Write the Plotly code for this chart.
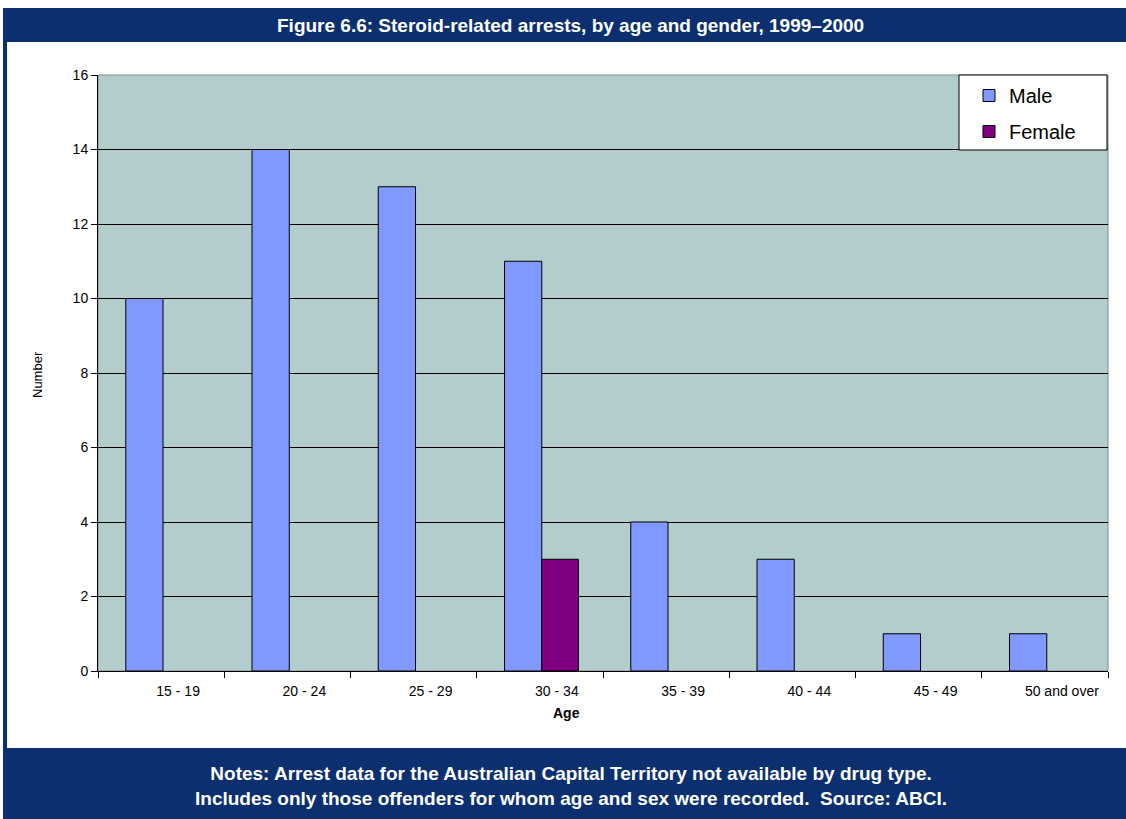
import plotly.graph_objects as go

categories = ["15 - 19", "20 - 24", "25 - 29", "30 - 34", "35 - 39", "40 - 44", "45 - 49", "50 and over"]
male = [10, 14, 13, 11, 4, 3, 1, 1]
female = [None, None, None, 3, None, None, None, None]
y_ticks = [0, 2, 4, 6, 8, 10, 12, 14, 16]

title_text = "Figure 6.6: Steroid-related arrests, by age and gender, 1999\u20132000"
notes_text = ("Notes: Arrest data for the Australian Capital Territory not available by drug type.<br>"
              "Includes only those offenders for whom age and sex were recorded.  Source: ABCI.")

NAVY = "#0B2F6F"
W, H = 1126, 819
L, R, T, B = 98, 18, 75, 148
PW, PH = W - L - R, H - T - B


def px(x):
    return (x - L) / PW


def py(y):
    return (H - B - y) / PH


fig = go.Figure()
fig.add_trace(go.Bar(name="Male", x=categories, y=male, legend="legend",
                     offset=-0.28, width=0.295,
                     marker=dict(color="#8099FF", line=dict(color="black", width=1))))
fig.add_trace(go.Bar(name="Female", x=categories, y=female, legend="legend2",
                     offset=0.015, width=0.29,
                     marker=dict(color="#800080", line=dict(color="black", width=1))))

base_font = "Liberation Sans, Arial, sans-serif"
leg_common = dict(xanchor="left", yanchor="top", bgcolor="rgba(0,0,0,0)",
                  borderwidth=0, font=dict(size=20, family=base_font, color="black"),
                  itemwidth=30)
fig.update_layout(
    width=W, height=H,
    margin=dict(l=L, r=R, t=T, b=B, pad=0),
    paper_bgcolor="white",
    plot_bgcolor="#B3CCCC",
    barmode="group",
    font=dict(family=base_font, size=14, color="black"),
    showlegend=True,
    legend=dict(x=px(969), y=py(76), **leg_common),
    legend2=dict(x=px(969), y=py(112), **leg_common),
    xaxis=dict(type="category", tickson="boundaries", ticks="outside", ticklen=6,
               tickcolor="black", showline=True, linecolor="black", linewidth=1,
               showgrid=False, tickfont=dict(size=14),
               ticklabelshift=17, ticklabelstandoff=7),
    yaxis=dict(range=[0, 16], tickvals=y_ticks, ticks="outside", ticklen=6,
               tickcolor="black", showline=True, linecolor="black", linewidth=1,
               showgrid=True, gridcolor="black", gridwidth=1, zeroline=False,
               tickfont=dict(size=14)),
    shapes=[
        dict(type="rect", xref="paper", yref="paper", x0=0, x1=1, y0=0, y1=1,
             line=dict(color="#7F8F8F", width=1), layer="below"),
        dict(type="rect", xref="paper", yref="paper", x0=px(959), x1=px(1107), y0=py(75), y1=py(150),
             fillcolor="white", line=dict(color="black", width=1), layer="above"),
        dict(type="rect", xref="paper", yref="paper", x0=px(3), x1=px(1126), y0=py(8), y1=py(42),
             fillcolor=NAVY, line=dict(width=0)),
        dict(type="rect", xref="paper", yref="paper", x0=px(3), x1=px(7), y0=py(42), y1=py(748),
             fillcolor=NAVY, line=dict(width=0)),
        dict(type="rect", xref="paper", yref="paper", x0=px(3), x1=px(1126), y0=py(748), y1=py(819),
             fillcolor=NAVY, line=dict(width=0)),
    ],
    annotations=[
        dict(text="<b>" + title_text + "</b>", xref="paper", yref="paper",
             x=px(570), y=py(25), showarrow=False, xanchor="center", yanchor="middle",
             font=dict(family="Liberation Sans Narrow, Arial Narrow, Liberation Sans, Arial", size=19, color="white")),
        dict(text="<b>" + notes_text + "</b>", xref="paper", yref="paper",
             x=px(571), y=py(786), showarrow=False, xanchor="center", yanchor="middle",
             font=dict(family=base_font, size=19, color="white")),
        dict(text="<b>Age</b>", xref="paper", yref="paper",
             x=px(566), y=py(713), showarrow=False, xanchor="center", yanchor="middle",
             font=dict(family=base_font, size=14, color="black")),
        dict(text="Number", xref="paper", yref="paper", textangle=-90,
             x=px(37), y=py(375), showarrow=False, xanchor="center", yanchor="middle",
             font=dict(family=base_font, size=13, color="black")),
    ],
)

fig.write_html("out.html")
